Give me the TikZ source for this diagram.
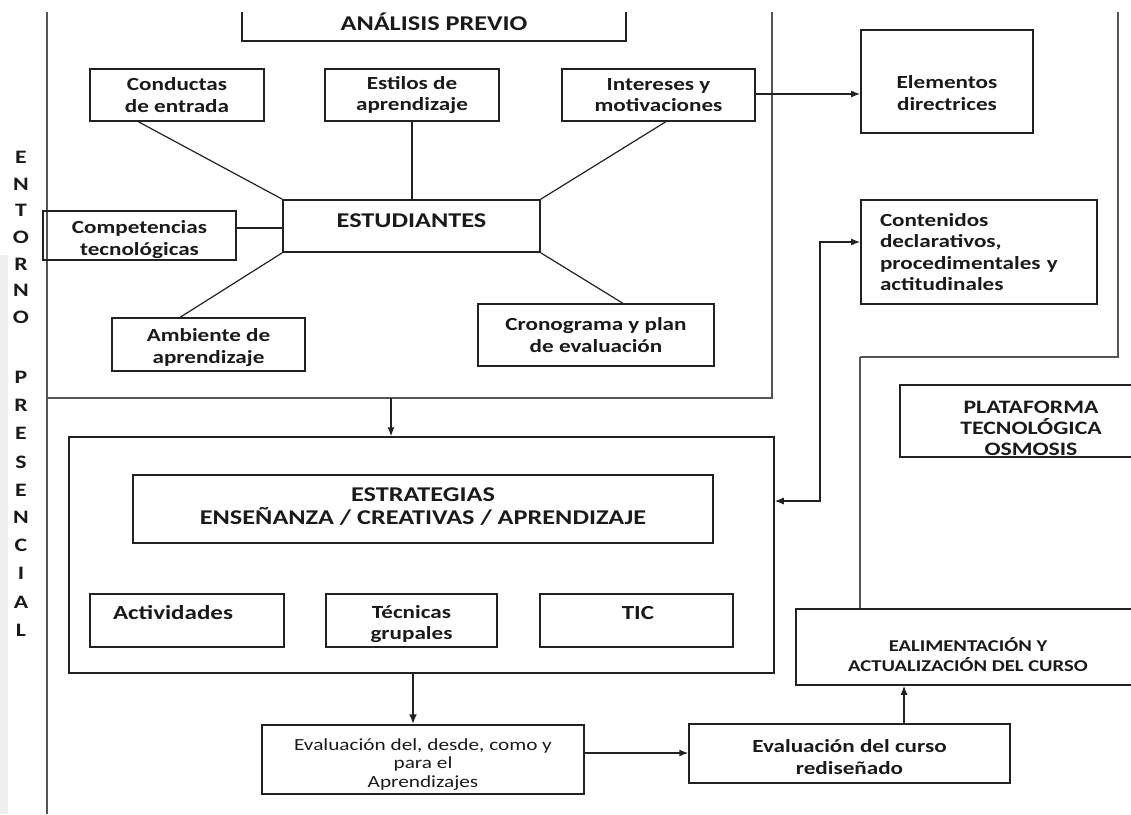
\documentclass[tikz,border=0pt]{standalone}
\usepackage{fontspec}
\setmainfont{Carlito}[FakeStretch=1.25]
\usetikzlibrary{arrows.meta}
\definecolor{ln}{HTML}{222222}
\definecolor{fr}{HTML}{555555}
\definecolor{tx}{HTML}{1A1A1A}
\newcommand\fBox{\fontsize{18.5}{21.5}\selectfont\bfseries}
\newcommand\fBig{\fontsize{21}{23}\selectfont\bfseries}
\newcommand\fReg{\fontsize{17}{18.5}\selectfont}
\newcommand\fEal{\fontsize{16.5}{20}\selectfont\bfseries}
\newcommand\fLet{\fontsize{19}{20}\selectfont\bfseries}
\begin{document}
\begin{tikzpicture}[x=1pt,y=-1pt,
  box/.style={draw=ln, line width=1.8pt, inner sep=0pt, align=center, text=tx, font=\fBox},
  lbl/.style={inner sep=0pt, align=center, text=tx, font=\fBox},
  frameline/.style={draw=fr, line width=1.3pt},
  conn/.style={draw=ln, line width=1.2pt},
  arr/.style={conn, -{Latex[length=9pt,width=7pt]}},
  letter/.style={inner sep=0pt, text=tx, font=\fLet}]
\useasboundingbox (0,0) rectangle (1131,814);
\fill[black!6] (0,255) rectangle (8,814);
\clip (0,12) rectangle (1131,814);

% ENTORNO PRESENCIAL
\foreach \l/\yy in {E/157,N/184,T/210,O/237,R/264,N/290,O/317,P/377,R/405,E/433,S/462,E/490,N/517,C/545,I/573,A/602,L/630}
  \node[letter] (ent\yy) at (21,\yy) {\l};

% frame lines
\coordinate (lineTop) at (47,12);
\coordinate (lineBot) at (47,814);
\coordinate (frBL) at (47,398);
\coordinate (frBR) at (772,398);
\coordinate (frTR) at (772,12);
\coordinate (frArrow) at (391,398);
\draw[frameline] (lineTop) -- (lineBot);
\draw[frameline] (frBL) -- (frBR) -- (frTR);
\coordinate (rTop) at (1118,12);
\coordinate (rCorner) at (1118,357);
\coordinate (rCorner2) at (860,357);
\draw[frameline] (rTop) -- (rCorner) -- (rCorner2);

% Analisis previo
\node[box, minimum width=384pt, minimum height=80pt, anchor=south,
  label={[lbl,font=\fBig,yshift=-21pt]center:ANÁLISIS PREVIO}] (analisis) at (434,42) {};

% top boxes
\node[box, line width=2.1pt, minimum width=174pt, minimum height=52pt] (conductas) at (177,95) {Conductas\\de entrada};
\node[box, line width=2.1pt, minimum width=174pt, minimum height=52pt] (estilos) at (412,95) {Estilos de\\aprendizaje};
\node[box, line width=2.1pt, minimum width=193pt, minimum height=52pt] (intereses) at (658.5,95) {Intereses y\\motivaciones};
\node[box, minimum width=257pt, minimum height=52pt,
  label={[lbl,font=\fBig,yshift=5pt]center:ESTUDIANTES}] (estudiantes) at (411.5,226) {};
\node[box, minimum width=193pt, minimum height=49pt,
  label={[lbl,yshift=-4pt]center:Competencias\\tecnológicas}] (competencias) at (139.5,235.5) {};
\node[box, minimum width=193pt, minimum height=53pt,
  label={[lbl,yshift=-3pt]center:Ambiente de\\aprendizaje}] (ambiente) at (208.5,344.5) {};
\node[box, line width=2.1pt, minimum width=236pt, minimum height=62pt] (cronograma) at (596,335) {Cronograma y plan\\de evaluación};

\node[box, minimum width=172pt, minimum height=103pt,
  label={[lbl,yshift=-11.5pt]center:Elementos\\directrices}] (elementos) at (947,81.5) {};
\node[box, minimum width=236pt, minimum height=104pt,
  label={[lbl,align=left,text width=198pt]center:Contenidos\\declarativos,\\procedimentales y\\actitudinales}] (contenidos) at (979,252) {};
\node[box, minimum width=262pt, minimum height=72pt,
  label={[lbl,font=\fontsize{19}{21}\selectfont\bfseries,yshift=-7pt]center:PLATAFORMA\\TECNOLÓGICA\\OSMOSIS}] (plataforma) at (1031,421) {};

% connectors around ESTUDIANTES
\coordinate (conductasS) at (137,121);
\coordinate (interesesS) at (667,121);
\coordinate (ambienteN) at (179,318);
\coordinate (cronogramaN) at (624,304);
\draw[conn] (conductasS) -- (estudiantes.north west);
\draw[conn] (estilos.south) -- (estilos.south |- estudiantes.north);
\draw[conn] (interesesS) -- (estudiantes.north east);
\draw[conn] (competencias.east |- 0,228) -- (estudiantes.west |- 0,228);
\draw[conn] (ambienteN) -- (estudiantes.south west);
\draw[conn] (cronogramaN) -- (estudiantes.south east);
\draw[arr] (intereses.east |- 0,94) -- (elementos.west |- 0,94);

% strategies
\node[box, line width=1.5pt, minimum width=705pt, minimum height=236pt] (stratOuter) at (421.5,555) {};
\node[box, minimum width=580pt, minimum height=68pt,
  label={[lbl,font=\fBig,yshift=2.5pt]center:ESTRATEGIAS\\ENSEÑANZA / CREATIVAS / APRENDIZAJE}] (stratInner) at (423,509) {};
\node[box, line width=1.5pt, minimum width=194pt, minimum height=53pt,
  label={[lbl,font=\fontsize{20}{22}\selectfont\bfseries,xshift=-14pt,yshift=7.5pt]center:Actividades}] (actividades) at (187,620.5) {};
\node[box, line width=1.5pt, minimum width=171pt, minimum height=53pt,
  label={[lbl,yshift=-3.5pt]center:Técnicas\\grupales}] (tecnicas) at (411.5,620.5) {};
\node[box, line width=1.5pt, minimum width=193pt, minimum height=53pt,
  label={[lbl,font=\fontsize{20}{22}\selectfont\bfseries,xshift=1.5pt,yshift=7.5pt]center:TIC}] (tic) at (636.5,620.5) {};

\draw[arr] (frArrow) -- (frArrow |- stratOuter.north);

% evaluation
\node[box, line width=1.5pt, minimum width=322pt, minimum height=69pt,
  label={[lbl,font=\fReg,yshift=-5pt]center:Evaluación del, desde, como y\\para el\\Aprendizajes}] (evalA) at (423,759.5) {};
\node[box, line width=1.5pt, minimum width=321pt, minimum height=59pt,
  label={[lbl,yshift=-3.5pt]center:Evaluación del curso\\rediseñado}] (evalB) at (849.5,753.5) {};
\node[box, line width=1.5pt, minimum width=344pt, minimum height=76pt,
  label={[lbl,font=\fEal,yshift=-8pt]center:EALIMENTACIÓN Y\\ACTUALIZACIÓN DEL CURSO}] (ealim) at (968,647) {};

\coordinate (downX) at (413,0);
\draw[conn, line width=2pt, -{Latex[length=10pt,width=8pt]}] (downX |- stratOuter.south) -- (downX |- evalA.north);
\draw[arr] (evalA.east |- 0,753) -- (evalB.west |- 0,753);
\coordinate (upX) at (904,0);
\draw[arr] (upX |- evalB.north) -- (upX |- ealim.south);
\draw[frameline] (rCorner2) -- (rCorner2 |- ealim.north);

% bidirectional connector
\coordinate (bendA) at (820,501);
\coordinate (bendB) at (820,242);
\draw[conn, {Latex[length=9pt,width=7pt]}-{Latex[length=9pt,width=7pt]}]
  (stratOuter.east |- bendA) -- (bendA) -- (bendB) -- (contenidos.west |- bendB);
\end{tikzpicture}
\end{document}
